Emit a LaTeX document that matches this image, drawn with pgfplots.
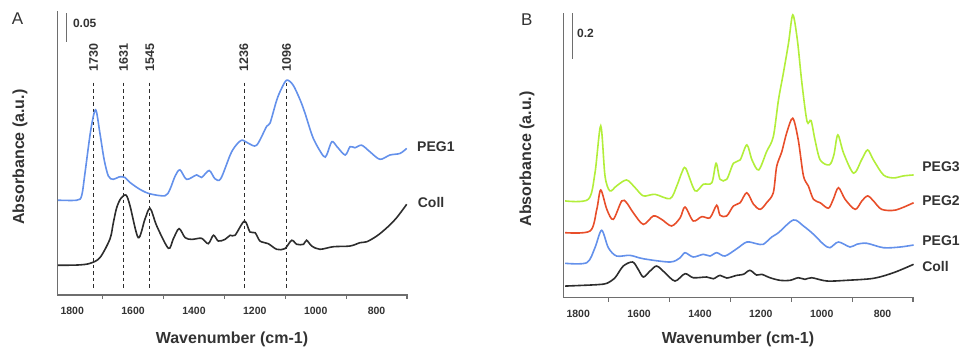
\documentclass[border=0pt]{standalone}
\usepackage{pgfplots}
\pgfplotsset{compat=1.18}
\usepackage{fontspec}
\setmainfont{Liberation Sans}
\definecolor{axgray}{RGB}{110,110,110}
\definecolor{txt}{RGB}{51,51,51}
\definecolor{cblue}{RGB}{100,145,235}
\definecolor{cred}{RGB}{232,78,42}
\definecolor{cgreen}{RGB}{178,238,58}
\definecolor{cblack}{RGB}{45,45,45}
\tikzset{
  curvelab/.style={anchor=west, font=\fontsize{14}{16}\selectfont\bfseries, text=txt, inner sep=0pt},
  peaklab/.style={rotate=90, font=\fontsize{12.5}{14}\selectfont\bfseries, text=txt, inner sep=0pt},
  dashline/.style={cblack, line width=0.7pt, sharp plot, dash pattern=on 3.5pt off 3pt},
  axln/.style={axgray, line width=0.9pt},
}
\pgfplotsset{
  panel/.style={
    scale only axis, width=350pt, height=284.4pt, anchor=south west,
    x dir=reverse, xmin=700, xmax=1850,
    axis lines*=left,
    axis line style={axgray, line width=0.9pt},
    xtick={1800,1600,1400,1200,1000,800},
    xticklabels={1800,1600,1400,1200,1000,800},
    ytick=\empty,
    major tick length=0pt,
    minor tick length=4pt,
    minor tick style={axgray, line width=0.9pt},
    tick align=outside,
    /pgf/number format/assume math mode=true,
    xticklabel style={font=\fontsize{10.5}{12}\selectfont\bfseries, text=txt, anchor=center, yshift=-16pt},
    xlabel={Wavenumber (cm-1)},
    ylabel={Absorbance (a.u.)},
    label style={font=\fontsize{16}{18}\selectfont\bfseries, text=txt},
    clip=false,
    every axis plot/.append style={line width=1.6pt, smooth, no marks},
  },
}
\begin{document}
\begin{tikzpicture}
\useasboundingbox (0,0) rectangle (961pt,352pt);
% ---------------- Panel A ----------------
\begin{axis}[panel, at={(57pt,57pt)},
  ymin=0, ymax=0.45,
  minor ytick={0,0.05,0.1,0.15,0.2,0.25,0.3,0.35,0.4,0.45},
  xlabel style={at={(axis description cs:0.5,-0.1547)}, anchor=center},
  ylabel style={at={(axis description cs:-0.1057,0.485)}, anchor=center},
]
\addplot[dashline] coordinates {(1730,0.336) (1730,0.008)};
\addplot[dashline] coordinates {(1631,0.336) (1631,0.008)};
\addplot[dashline] coordinates {(1545,0.336) (1545,0.008)};
\addplot[dashline] coordinates {(1236,0.336) (1236,0.008)};
\addplot[dashline] coordinates {(1096,0.336) (1096,0.008)};
% Coll
\addplot[cblack] coordinates {
(1847,0.047) (1780,0.0475) (1742,0.050) (1709,0.059) (1676,0.0886) (1665,0.114)
(1654,0.138) (1640,0.153) (1623,0.158) (1610,0.141) (1583,0.0907) (1561,0.120)
(1544,0.137) (1522,0.109) (1484,0.0739) (1468,0.0886) (1449,0.105) (1429,0.0907)
(1407,0.088) (1375,0.0897) (1353,0.0812) (1336,0.0945) (1320,0.0854) (1298,0.088)
(1281,0.0945) (1265,0.0945) (1234,0.117) (1216,0.0997) (1199,0.0986) (1183,0.0854)
(1156,0.0812) (1128,0.0723) (1101,0.0733) (1079,0.0866) (1062,0.0802) (1040,0.0802)
(1030,0.0866) (1013,0.0775) (986,0.0723) (942,0.0764) (887,0.0775) (854,0.0828)
(832,0.0843) (799,0.0934) (766,0.1065) (734,0.1223) (701,0.1435)};
% PEG1
\addplot[cblue] coordinates {
(1847,0.150) (1785,0.150) (1769,0.157) (1758,0.193) (1739,0.261) (1723,0.293)
(1709,0.256) (1695,0.214) (1681,0.188) (1665,0.183) (1645,0.187) (1627,0.186)
(1610,0.178) (1577,0.167) (1544,0.160) (1495,0.157) (1479,0.167) (1462,0.188)
(1446,0.198) (1424,0.183) (1391,0.190) (1375,0.186) (1350,0.197) (1331,0.184)
(1312,0.184) (1281,0.2215) (1265,0.235) (1243,0.245) (1221,0.240) (1194,0.237)
(1161,0.267) (1150,0.272) (1128,0.3085) (1112,0.327) (1095,0.340) (1074,0.332)
(1051,0.3085) (1035,0.2875) (1008,0.248) (975,0.220) (964,0.2215) (947,0.2426)
(930,0.2347) (903,0.2215) (887,0.2347) (871,0.233) (849,0.237) (822,0.2267)
(789,0.2147) (756,0.2215) (723,0.224) (701,0.232)};
\node[peaklab] at (axis cs:1730,0.376) {1730};
\node[peaklab] at (axis cs:1631,0.376) {1631};
\node[peaklab] at (axis cs:1545,0.376) {1545};
\node[peaklab] at (axis cs:1236,0.376) {1236};
\node[peaklab] at (axis cs:1096,0.376) {1096};
\node[curvelab] at (axis cs:667,0.2347) {PEG1};
\node[curvelab] at (axis cs:665,0.147) {Coll};
\draw[axln] (axis cs:1820,0.4008) -- (axis cs:1820,0.4467);
\node[anchor=west, inner sep=0pt, font=\fontsize{12}{14}\selectfont\bfseries, text=txt] at (axis cs:1798,0.429) {0.05};
\end{axis}
% ---------------- Panel B ----------------
\begin{axis}[panel, at={(563pt,54.3pt)},
  ymin=-0.049, ymax=1.2,
  minor ytick={0,0.2,0.4,0.6,0.8,1.0,1.2},
  xlabel style={at={(axis description cs:0.5,-0.1453)}, anchor=center},
  ylabel style={at={(axis description cs:-0.1029,0.488)}, anchor=center},
]
% Coll
\addplot[cblack] coordinates {
(1843,0.002) (1760,0.0066) (1730,0.009) (1706,0.014) (1679,0.0387) (1652,0.090)
(1621,0.1077) (1603,0.0756) (1586,0.0418) (1564,0.068) (1542,0.090) (1515,0.0607)
(1482,0.0242) (1449,0.0563) (1422,0.0387) (1378,0.0418) (1356,0.0343) (1334,0.0492)
(1312,0.0374) (1279,0.0492) (1257,0.0536) (1236,0.0712) (1214,0.0505) (1197,0.0536)
(1170,0.0387) (1137,0.0273) (1104,0.0273) (1077,0.0387) (1055,0.0316) (1033,0.0387)
(983,0.0242) (918,0.0273) (830,0.036) (764,0.0607) (698,0.0976)};
% PEG1
\addplot[cblue] coordinates {
(1843,0.102) (1772,0.1046) (1745,0.1705) (1723,0.247) (1701,0.1705) (1674,0.134)
(1630,0.137) (1586,0.122) (1498,0.1077) (1465,0.1266) (1449,0.1486) (1422,0.1297)
(1389,0.1415) (1367,0.134) (1345,0.1486) (1318,0.134) (1279,0.166) (1246,0.1956)
(1214,0.188) (1192,0.1855) (1164,0.2176) (1142,0.2365) (1093,0.2923) (1060,0.266)
(1027,0.2295) (994,0.1855) (973,0.1705) (945,0.1956) (907,0.1736) (885,0.1855)
(852,0.190) (797,0.1705) (742,0.1736) (698,0.1824)};
% PEG2
\addplot[cred] coordinates {
(1843,0.2365) (1761,0.244) (1739,0.339) (1726,0.424) (1706,0.339) (1685,0.295)
(1657,0.376) (1641,0.368) (1619,0.324) (1586,0.273) (1553,0.310) (1526,0.295)
(1493,0.266) (1465,0.302) (1449,0.349) (1422,0.288) (1394,0.307) (1367,0.302)
(1345,0.357) (1334,0.313) (1312,0.310) (1290,0.354) (1268,0.368) (1246,0.412)
(1224,0.361) (1202,0.339) (1181,0.368) (1159,0.412) (1148,0.527) (1131,0.5925)
(1115,0.675) (1095,0.739) (1077,0.644) (1060,0.486) (1044,0.442) (1027,0.383)
(1005,0.368) (978,0.344) (962,0.383) (945,0.434) (923,0.383) (890,0.339)
(868,0.376) (849,0.398) (830,0.376) (803,0.339) (757,0.336) (698,0.368)};
% PEG3
\addplot[cgreen] coordinates {
(1843,0.376) (1767,0.383) (1745,0.498) (1726,0.7055) (1712,0.486) (1696,0.420)
(1674,0.442) (1641,0.468) (1613,0.434) (1586,0.398) (1548,0.405) (1498,0.386)
(1476,0.442) (1460,0.499) (1447,0.520) (1416,0.420) (1389,0.449) (1361,0.456)
(1347,0.5415) (1334,0.471) (1312,0.471) (1290,0.5415) (1268,0.556) (1246,0.622)
(1229,0.556) (1207,0.512) (1181,0.5925) (1159,0.658) (1142,0.820) (1126,0.937)
(1109,1.069) (1095,1.193) (1080,1.0835) (1065,0.893) (1048,0.724) (1035,0.729)
(1022,0.644) (1005,0.556) (975,0.534) (960,0.578) (947,0.666) (928,0.5855)
(895,0.4976) (868,0.559) (849,0.600) (830,0.556) (797,0.490) (764,0.477)
(731,0.486) (698,0.490)};
\node[curvelab] at (axis cs:670,0.525) {PEG3};
\node[curvelab] at (axis cs:670,0.376) {PEG2};
\node[curvelab] at (axis cs:670,0.200) {PEG1};
\node[curvelab] at (axis cs:670,0.090) {Coll};
\draw[axln] (axis cs:1819,1.0) -- (axis cs:1819,1.2);
\node[anchor=west, inner sep=0pt, font=\fontsize{12}{14}\selectfont\bfseries, text=txt] at (axis cs:1804,1.113) {0.2};
\end{axis}
% x axis lines and minor ticks (drawn as filled bars)
\fill[axgray] (56.5pt,56.3pt) rectangle (407.5pt,57.7pt);
\fill[axgray] (102.1pt,57pt) rectangle (103.2pt,52.5pt);
\fill[axgray] (163pt,57pt) rectangle (164.1pt,52.5pt);
\fill[axgray] (223.9pt,57pt) rectangle (225pt,52.5pt);
\fill[axgray] (284.8pt,57pt) rectangle (285.9pt,52.5pt);
\fill[axgray] (345.6pt,57pt) rectangle (346.7pt,52.5pt);
\fill[axgray] (406.4pt,57pt) rectangle (407.5pt,52.5pt);
\fill[axgray] (562.5pt,53.6pt) rectangle (913.5pt,55pt);
\fill[axgray] (608.1pt,54.3pt) rectangle (609.2pt,49.8pt);
\fill[axgray] (669pt,54.3pt) rectangle (670.1pt,49.8pt);
\fill[axgray] (729.9pt,54.3pt) rectangle (731pt,49.8pt);
\fill[axgray] (790.8pt,54.3pt) rectangle (791.9pt,49.8pt);
\fill[axgray] (851.6pt,54.3pt) rectangle (852.7pt,49.8pt);
\fill[axgray] (912.4pt,54.3pt) rectangle (913.5pt,49.8pt);
\node[font=\fontsize{17}{18}\selectfont, text=txt] at (17.5pt,333pt) {A};
\node[font=\fontsize{17}{18}\selectfont, text=txt] at (526.7pt,332pt) {B};
\end{tikzpicture}
\end{document}
